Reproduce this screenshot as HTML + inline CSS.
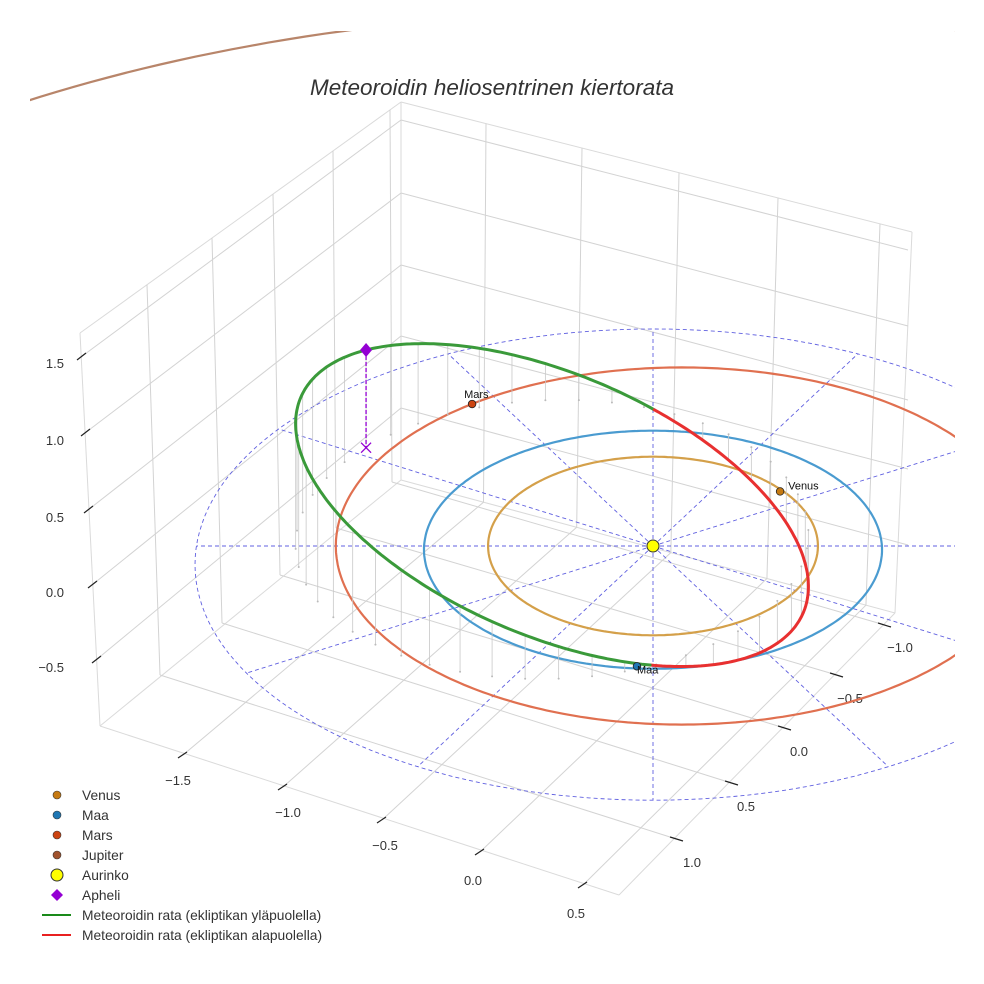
<!DOCTYPE html>
<html><head><meta charset="utf-8">
<style>
html,body{margin:0;padding:0;background:#fff;width:984px;height:984px;overflow:hidden;}
svg{display:block;font-family:"Liberation Sans",sans-serif;}
</style></head>
<body>
<svg id="chart" width="984" height="984" viewBox="0 0 984 984">
<defs><clipPath id="clip"><rect x="30" y="31" width="925" height="924"/></clipPath></defs>
<rect width="984" height="984" fill="#fff"/>
<g id="box"></g>
<g id="plot" clip-path="url(#clip)"></g>
<text x="492" y="95" text-anchor="middle" font-size="22.5" font-style="italic" fill="#333">Meteoroidin heliosentrinen kiertorata</text>
<g id="legend" font-size="13.8" fill="#333"></g>
</svg>
<script>
// ---- data ----
const planetNames = ["Venus","Maa","Mars","Jupiter"];
const planetColors = ["#c67a12","#1f77b4","#cc4411","#a0522d"];
const orbitColors = ["#d4a04a","#4a9bd0","#e07050","#b8856a"];
const orbitSemiX = [0.72, 1.0, 1.51, 4.91];
const orbitSemiY = [0.72, 0.96, 1.44, 4.32];
const orbitCenterX = [0, 0, 0.125, 0];
const orbitCenterY = [0, -0.03, 0, 0];
const planetPosX = [0.555, -0.07, -0.79];
const planetPosY = [0.44, -0.97, 1.145];
const meteorCenter = [-0.441, 0.053, 0.229];
const meteorAxisU = [-0.812, 0.74, 0.422];
const meteorAxisV = [0.771, 0.848, -0.401];
const eclipticSemiX = [1.0, 2.0];
const eclipticSemiY = [0.96, 1.9];
const eclipticCenterY = [-0.03, -0.15];
const radialAngles = [0,30,60,90,120,150,180,210,240,270,300,330];
const zTicks = ["1.5","1.0","0.5","0.0","\u22120.5"];
const xTicks = ["\u22121.5","\u22121.0","\u22120.5","0.0","0.5"];
const yTicks = ["\u22121.0","\u22120.5","0.0","0.5","1.0"];

// ---- projection ----
const CX=653, CY=546, SX=229, SY=124, SZ=150;
function P(x,y,z){ return [CX+SX*x, CY-SY*y-SZ*(z||0)]; }

const NS="http://www.w3.org/2000/svg";
function mk(tag,parent,attrs){const e=document.createElementNS(NS,tag);for(const k in attrs)e.setAttribute(k,attrs[k]);parent.appendChild(e);return e;}
const box=document.getElementById('box'), plot=document.getElementById('plot'), legend=document.getElementById('legend');
function gl(p,q,c,w){const l=mk('line',box,{x1:p[0],y1:p[1],x2:q[0],y2:q[1],stroke:c||'#d3d3d3','stroke-width':w||1});

return l;}
function lerp(a,b,t){return [a[0]+(b[0]-a[0])*t,a[1]+(b[1]-a[1])*t];}

// ---- box (panes & grid) ----
const BT=[401,102],BB=[401,480],RT=[912,232],RB=[895,613],LT=[80,333],LB=[100,726],F=[619,895];
[[BT,BB],[BT,RT],[RT,RB],[BB,RB],[LT,LB],[LT,BT],[LB,BB],[LB,F],[F,RB]].forEach(e=>gl(e[0],e[1],'#dadada'));
const rpL=[120,193,265,336,408], rpR=[250,326,400,469,545];
for(let i=0;i<5;i++) gl([401,rpL[i]],[908,rpR[i]]);
const rpX=[486,582,679,778,880];
const rpBottoms=[];
rpX.forEach(x=>{const t=(x-401)/511;const top=lerp(BT,RT,t);const bx=x-15*t;const tb=(bx-401)/494;const bot=lerp(BB,RB,tb);rpBottoms.push(bot);gl(top,bot);});
const lpLeft=[[81,357],[85,433],[88,510],[92,585],[96,660]];
for(let i=0;i<5;i++) gl(lpLeft[i],[401,rpL[i]]);
const lpTopX=[147,212,273,333,390];
const lpBot=[[160,675],[222,623],[280,575],[336,528],[392,482]];
for(let i=0;i<5;i++){const t=(lpTopX[i]-80)/321;gl(lerp(LT,BT,t),lpBot[i]);}
const rfT=[[878,623],[830,673],[778,726],[725,781],[670,837]];
const lfT=[[183,755],[283,787],[382,820],[480,852],[583,885]];
for(let i=0;i<5;i++) gl(lpBot[4-i],rfT[i]);
for(let i=0;i<5;i++) gl(rpBottoms[i],lfT[i]);
function tl(txt,x,y,anchor){const t=mk('text',box,{x:x,y:y,'font-size':13,fill:'#333','text-anchor':anchor||'middle'});t.textContent=txt;

}
const zLab=[363,440,517,592,667];
for(let i=0;i<5;i++){const p=lpLeft[i];gl([p[0]-4,p[1]+3],[p[0]+5,p[1]-4],'#222',1.2);tl(zTicks[i],64,zLab[i]+5,'end');}
const xLab=[[178,780],[288,812],[385,845],[473,880],[576,913]];
for(let i=0;i<5;i++){const p=lfT[i];gl([p[0]-5,p[1]+3],[p[0]+4,p[1]-3],'#222',1.2);tl(xTicks[i],xLab[i][0],xLab[i][1]+5);}
const yLab=[[900,647],[850,698],[799,751],[746,806],[692,862]];
for(let i=0;i<5;i++){const p=rfT[i];gl(p,[p[0]+13,p[1]+4],'#222',1.2);tl(yTicks[i],yLab[i][0],yLab[i][1]+5);}

// ---- plot ----
function path(pts){return 'M'+pts.map(p=>p[0].toFixed(1)+','+p[1].toFixed(1)).join('L');}
function ellipsePts(cx,cy,ax,ay,n){const a=[];for(let k=0;k<=n;k++){const t=2*Math.PI*k/n;a.push(P(cx+ax*Math.cos(t),cy+ay*Math.sin(t),0));}return a;}
for(let i=0;i<eclipticSemiX.length;i++){const e=mk('path',plot,{d:path(ellipsePts(0,eclipticCenterY[i],eclipticSemiX[i],eclipticSemiY[i],180)),fill:'none',stroke:'#6060e0','stroke-width':0.9,'stroke-dasharray':'4,3'});

}
const last=eclipticSemiX.length-1;
radialAngles.forEach(a=>{const t=a*Math.PI/180;const dx=Math.cos(t),dy=Math.sin(t);
// intersect ray with outer ellipse
const ax=eclipticSemiX[last],ay=eclipticSemiY[last],cy=eclipticCenterY[last];
const A=dx*dx/(ax*ax)+dy*dy/(ay*ay),B=-2*dy*cy/(ay*ay),C=cy*cy/(ay*ay)-1;
const s=(-B+Math.sqrt(B*B-4*A*C))/(2*A);
const p0=P(0,0,0),p1=P(s*dx,s*dy,0);
const l=mk('line',plot,{x1:p0[0],y1:p0[1],x2:p1[0],y2:p1[1],stroke:'#6060e0','stroke-width':0.9,'stroke-dasharray':'4,3'});

});
for(let i=0;i<4;i++){const o=mk('path',plot,{d:path(ellipsePts(orbitCenterX[i],orbitCenterY[i],orbitSemiX[i],orbitSemiY[i],360)),fill:'none',stroke:orbitColors[i],'stroke-width':2.2});

}
function M(t){const c=Math.cos(t),s=Math.sin(t);return [0,1,2].map(k=>meteorCenter[k]+meteorAxisU[k]*c+meteorAxisV[k]*s);}
const N=360; let seg=[],segAbove=null;
function flush(){if(seg.length>1){const p=mk('path',plot,{d:path(seg),fill:'none',stroke:segAbove?'#3a9a3a':'#e83030','stroke-width':3,'stroke-linecap':'round'});

}}
for(let k=0;k<48;k++){const q=M(2*Math.PI*k/48);const a=P(q[0],q[1],q[2]),b=P(q[0],q[1],0);
const l=mk('line',plot,{x1:a[0],y1:a[1],x2:b[0],y2:b[1],stroke:'#c8c8c8','stroke-width':0.8});


const d=mk('circle',plot,{cx:b[0],cy:b[1],r:1,fill:'#bbb'});

}
for(let k=0;k<=N;k++){const q=M(2*Math.PI*k/N);const ab=q[2]>=0;const p=P(q[0],q[1],q[2]);
if(segAbove===null)segAbove=ab;
if(ab!==segAbove){seg.push(p);flush();seg=[p];segAbove=ab;}else seg.push(p);}
flush();
const ap=M(0),apT=P(ap[0],ap[1],ap[2]),apB=P(ap[0],ap[1],0);
let e=mk('line',plot,{x1:apT[0],y1:apT[1],x2:apB[0],y2:apB[1],stroke:'#9400d3','stroke-width':1.3,'stroke-dasharray':'4,2'});


e=mk('path',plot,{d:`M${apB[0]-5},${apB[1]-5}L${apB[0]+5},${apB[1]+5}M${apB[0]-5},${apB[1]+5}L${apB[0]+5},${apB[1]-5}`,stroke:'#9400d3','stroke-width':1.3});


e=mk('path',plot,{d:`M${apT[0]},${apT[1]-7}L${apT[0]+6},${apT[1]}L${apT[0]},${apT[1]+7}L${apT[0]-6},${apT[1]}Z`,fill:'#9400d3'});


for(let i=0;i<3;i++){const p=P(planetPosX[i],planetPosY[i],0);
const c=mk('circle',plot,{cx:p[0],cy:p[1],r:3.8,fill:planetColors[i],stroke:'#222','stroke-width':0.8});


const t=mk('text',plot,{x:p[0]+(i===0?8:i===1?0:-8),y:p[1]+(i===0?-2:i===1?7:-6),'font-size':11,fill:'#111'});t.textContent=planetNames[i];

}
const s0=P(0,0,0);
e=mk('circle',plot,{cx:s0[0],cy:s0[1],r:6,fill:'#ffff00',stroke:'#333','stroke-width':1});



// ---- legend ----
const legNames=["Venus","Maa","Mars","Jupiter","Aurinko","Apheli","Meteoroidin rata (ekliptikan yläpuolella)","Meteoroidin rata (ekliptikan alapuolella)"];
const legColors=["#c67a12","#1f77b4","#cc4411","#a0522d","#ffff00","#9400d3","#1a8a1a","#e82020"];
for(let i=0;i<legNames.length;i++){const y=795+i*20;
const g=mk('g',legend,{});


if(i<4)mk('circle',g,{cx:57,cy:y,r:4,fill:legColors[i],stroke:'#333','stroke-width':0.6});
else if(i===4)mk('circle',g,{cx:57,cy:y,r:6,fill:legColors[i],stroke:'#333','stroke-width':1});
else if(i===5)mk('path',g,{d:`M57,${y-6}L63,${y}L57,${y+6}L51,${y}Z`,fill:legColors[i]});
else mk('line',g,{x1:42,y1:y,x2:71,y2:y,stroke:legColors[i],'stroke-width':2});
const t=mk('text',g,{x:82,y:y+5,'font-size':13.8,fill:'#333'});t.textContent=legNames[i];}
</script>
</body></html>
